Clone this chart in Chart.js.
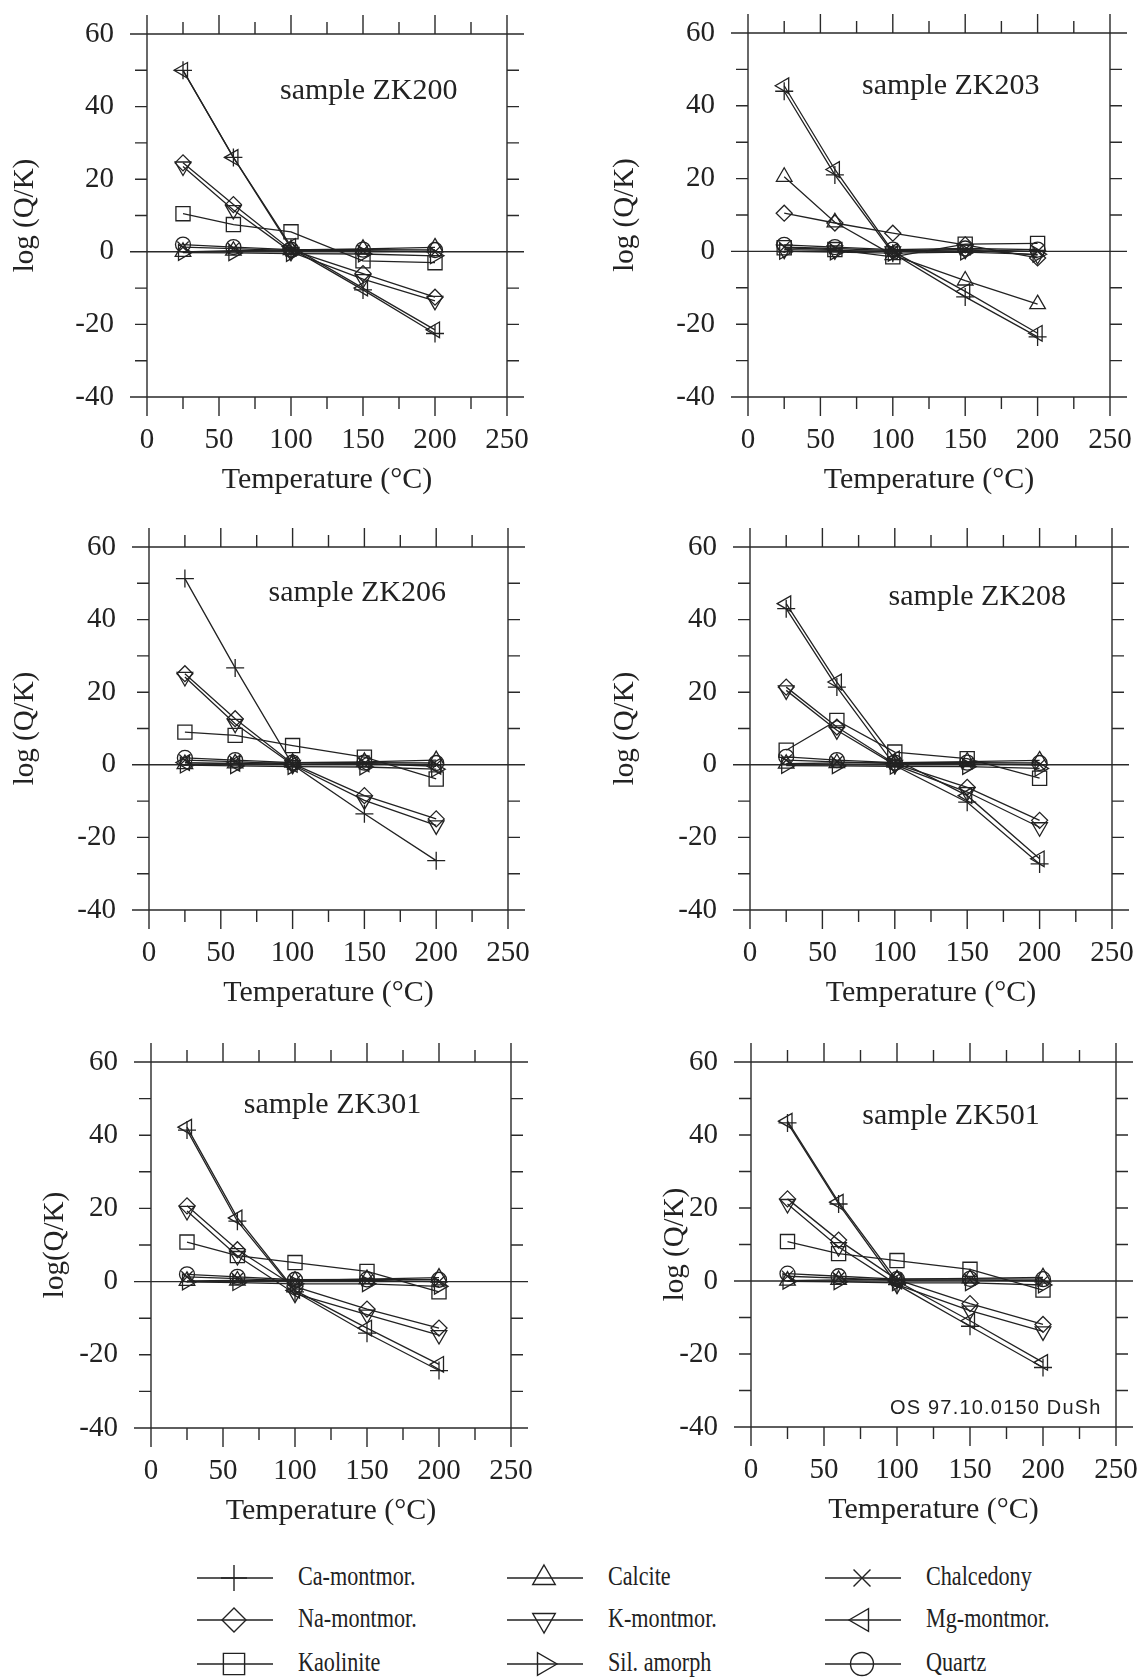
<!DOCTYPE html>
<html>
<head>
<meta charset="utf-8">
<script src="https://cdn.jsdelivr.net/npm/chart.js@4.4.1/dist/chart.umd.min.js"></script>
<style>
  body { margin: 0; background: #fff; width: 1141px; height: 1679px; position: relative; overflow: hidden; }
  canvas.panel { position: absolute; }
  .key { position: absolute; width: 260px; height: 40px; }
  .key canvas { position: absolute; left: 0; top: 0; }
  .key span {
    position: absolute; top: -2px; line-height: 40px; white-space: nowrap;
    font-family: 'Liberation Serif', 'Times New Roman', serif; font-size: 27px; color: #222;
    transform: scaleX(0.82); transform-origin: left center;
  }
</style>
</head>
<body>
<script>
// temperatures (°C) and samples
const temperatures = [25, 60, 100, 150, 200];
const samples = ['ZK200', 'ZK203', 'ZK206', 'ZK208', 'ZK301', 'ZK501'];
const mineralNames = ['Ca-montmor.', 'Na-montmor.', 'Kaolinite', 'Calcite', 'K-montmor.',
                      'Sil. amorph', 'Chalcedony', 'Mg-montmor.', 'Quartz'];

// log(Q/K), one row per sample (same order as samples)
const caMontmor = [
  [50, 26, 1, -10.5, -22.5],
  [44, 21, -0.5, -12.5, -23.5],
  [51.3, 26.7, 0, -13.5, -26.4],
  [43, 21.4, -0.2, -10.3, -27.3],
  [41.4, 16.5, -2.8, -14.1, -24.3],
  [43.3, 21.1, -1, -12.4, -23.7]
];
const naMontmor = [
  [24.5, 13, 0.5, -6, -12.5],
  [10.5, 7.8, 5, 1.8, -1.8],
  [25.1, 12.7, 0.3, -8.5, -14.9],
  [21.4, 10.4, 0.3, -6.2, -15.3],
  [20.7, 8.7, -1.4, -7.5, -12.7],
  [22.5, 11.2, 0.4, -6.2, -11.9]
];
const kaolinite = [
  [10.5, 7.5, 5.5, -2.5, -3],
  [1, 0.5, -1.5, 2, 2.2],
  [9, 8.1, 5.3, 2.1, -3.9],
  [4, 12.2, 3.5, 1.7, -3.7],
  [10.8, 7.1, 5.2, 2.8, -2.8],
  [10.8, 7.5, 5.6, 3.2, -2.5]
];
const calcite = [
  [0, 0.3, 0.5, 0.8, 1.2],
  [20.5, 8, -1, -8, -14.5],
  [0.2, 0.4, 0.6, 0.8, 1.3],
  [0.3, 0.5, 0.6, 0.9, 1.2],
  [0.2, 0.3, 0.3, 0.7, 1.1],
  [0.1, 0.3, 0.5, 0.7, 1]
];
const kMontmor = [
  [23.5, 11.5, 0, -7.5, -13.5],
  [0.5, 0.3, 0, 0.5, -1],
  [24.2, 11.3, 0, -9.8, -16.7],
  [20.5, 9.5, 0, -7.5, -17.2],
  [19.3, 7, -3.3, -9, -14.6],
  [21.1, 9.3, -1, -8.1, -13.8]
];
const silAmorph = [
  [-0.2, -0.3, -0.5, -0.6, -1.1],
  [0, -0.2, -0.5, -0.2, -0.8],
  [-0.1, -0.3, -0.5, -0.6, -1.2],
  [-0.2, -0.3, -0.4, -0.5, -1],
  [-0.1, -0.3, -0.6, -0.6, -1.3],
  [-0.1, -0.2, -0.5, -0.5, -1.1]
];
const chalcedony = [
  [1.3, 0.9, 0.3, 0.3, 0],
  [1.2, 0.8, 0.2, 0.5, 0],
  [1.3, 0.9, 0.2, 0.3, 0],
  [1.3, 0.8, 0.3, 0.3, 0],
  [1.3, 0.8, 0.2, 0.3, 0],
  [1.3, 0.8, 0.2, 0.3, 0]
];
const mgMontmor = [
  [50, 26, 1.5, -10, -21.5],
  [45.5, 22.5, 0, -11, -22.5],
  [0.6, 0.4, 0.1, 0.3, -0.4],
  [44.4, 22.8, 1.6, -8.5, -25.9],
  [42.2, 17.4, -2.4, -12.7, -22.6],
  [43.8, 21.6, 0, -10.9, -22.3]
];
const quartz = [
  [2, 1.3, 0.6, 0.6, 0.5],
  [1.8, 1.2, 0.5, 0.8, 0.5],
  [1.9, 1.3, 0.6, 0.6, 0.5],
  [2.2, 1.3, 0.6, 0.6, 0.5],
  [2, 1.3, 0.5, 0.6, 0.5],
  [2, 1.3, 0.5, 0.6, 0.5]
];
const seriesValues = [caMontmor, naMontmor, kaolinite, calcite, kMontmor,
                      silAmorph, chalcedony, mgMontmor, quartz];

const yTitles = ['log (Q/K)', 'log (Q/K)', 'log (Q/K)', 'log (Q/K)', 'log(Q/K)', 'log (Q/K)'];
const xTitle = 'Temperature (°C)';
const stamp = 'OS 97.10.0150 DuSh';

// ---- layout / style ----
// plot area of each panel in page pixels: left, right, top, bottom
const plotBoxes = [
  [147, 507, 34, 397],
  [748, 1110, 33, 397],
  [149, 508, 547, 910],
  [750, 1112, 547, 910],
  [151, 511, 1062, 1428],
  [751, 1116, 1062, 1427]
];
// distance from left axis to the centre of the rotated y title
const yTitleDist = [122, 123, 124, 125, 96, 76];
// where "sample ..." sits, in data units (centre x, baseline y)
const labelSpots = [[154, 42.2], [140, 43.3], [145, 45], [157, 43.9], [126, 46.2], [137, 43.1]];

const markers = [
  { pointStyle: 'cross', rotation: 0, radius: 9 },
  { pointStyle: 'rectRot', rotation: 0, radius: 8 },
  { pointStyle: 'rect', rotation: 0, radius: 10 },
  { pointStyle: 'triangle', rotation: 0, radius: 9 },
  { pointStyle: 'triangle', rotation: 180, radius: 9 },
  { pointStyle: 'triangle', rotation: 90, radius: 9 },
  { pointStyle: 'crossRot', rotation: 0, radius: 8 },
  { pointStyle: 'triangle', rotation: 270, radius: 9 },
  { pointStyle: 'circle', rotation: 0, radius: 7.5 }
];

const SERIF = "'Liberation Serif', 'Times New Roman', serif";
const INK = '#222';
const AXIS_W = 150, AXIS_H = 120, PAD_TOP = 25, PAD_RIGHT = 30;

// tick labels may hang over the edges, the layout padding already leaves room
function noOverhang(sc) {
  sc.paddingTop = 0; sc.paddingBottom = 0; sc.paddingLeft = 0; sc.paddingRight = 0;
}

// frame, zero line and the little ticks all round
const framePlugin = {
  id: 'frame',
  beforeDatasetsDraw(chart) {
    const { ctx, scales: { x, y } } = chart;
    const x0 = x.getPixelForValue(0), x1 = x.getPixelForValue(250);
    const yTop = y.getPixelForValue(60), yBot = y.getPixelForValue(-40);
    ctx.save();
    ctx.strokeStyle = '#2a2a2a';
    ctx.lineWidth = 1.4;
    ctx.beginPath();
    [60, 0, -40].forEach(v => {
      const py = y.getPixelForValue(v);
      ctx.moveTo(x0 - 17, py); ctx.lineTo(x1 + 17, py);
    });
    [x0, x1].forEach(px => { ctx.moveTo(px, yTop - 19); ctx.lineTo(px, yBot + 19); });
    for (let t = 25; t < 250; t += 25) {
      const px = x.getPixelForValue(t);
      const len = t % 50 === 0 ? 19 : 12;
      ctx.moveTo(px, yTop); ctx.lineTo(px, yTop - len);
      ctx.moveTo(px, yBot); ctx.lineTo(px, yBot + len);
    }
    for (let v = -30; v < 60; v += 10) {
      if (v === 0) continue;
      const py = y.getPixelForValue(v);
      ctx.moveTo(x0, py); ctx.lineTo(x0 - 12, py);
      ctx.moveTo(x1, py); ctx.lineTo(x1 + 12, py);
    }
    ctx.stroke();
    ctx.restore();
  },
  afterDatasetsDraw(chart, args, opts) {
    const { ctx, scales: { x, y } } = chart;
    ctx.save();
    ctx.fillStyle = INK;
    ctx.font = '30px ' + SERIF;
    ctx.textAlign = 'center';
    ctx.textBaseline = 'alphabetic';
    ctx.fillText(opts.text, x.getPixelForValue(opts.at[0]), y.getPixelForValue(opts.at[1]));
    if (opts.stamp) {
      ctx.font = "20px 'Liberation Sans', Arial, sans-serif";
      if ('letterSpacing' in ctx) ctx.letterSpacing = '1.2px';
      ctx.textAlign = 'right';
      ctx.fillText(opts.stamp, x.getPixelForValue(240.2), y.getPixelForValue(-36.5));
    }
    ctx.restore();
  }
};

samples.forEach((name, s) => {
  const [l, r, t, b] = plotBoxes[s];
  const canvas = document.createElement('canvas');
  canvas.className = 'panel';
  canvas.width = AXIS_W + (r - l) + PAD_RIGHT;
  canvas.height = PAD_TOP + (b - t) + AXIS_H;
  canvas.style.left = (l - AXIS_W) + 'px';
  canvas.style.top = (t - PAD_TOP) + 'px';
  document.body.appendChild(canvas);

  const datasets = mineralNames.map((m, i) => ({
    label: m,
    data: temperatures.map((T, j) => ({ x: T, y: seriesValues[i][s][j] })),
    borderColor: INK,
    borderWidth: 1.3,
    backgroundColor: 'rgba(0,0,0,0)',
    pointStyle: markers[i].pointStyle,
    pointRotation: markers[i].rotation,
    pointRadius: markers[i].radius,
    pointBorderWidth: 1.3,
    pointBorderColor: INK,
    pointBackgroundColor: 'rgba(0,0,0,0)',
    fill: false,
    tension: 0,
    clip: false
  }));

  new Chart(canvas.getContext('2d'), {
    type: 'line',
    data: { datasets },
    plugins: [framePlugin],
    options: {
      responsive: false,
      devicePixelRatio: 1,
      animation: false,
      events: [],
      layout: { padding: { top: PAD_TOP, right: PAD_RIGHT, left: 0, bottom: 0 } },
      plugins: {
        legend: { display: false },
        tooltip: { enabled: false },
        frame: { text: 'sample ' + name, at: labelSpots[s], stamp: s === 5 ? stamp : null }
      },
      scales: {
        x: {
          type: 'linear', position: 'bottom', min: 0, max: 250,
          afterFit: sc => { sc.height = AXIS_H; noOverhang(sc); },
          grid: { display: false, drawTicks: false, tickLength: 0 },
          border: { display: false },
          ticks: { stepSize: 50, autoSkip: false, maxRotation: 0, padding: 29, color: INK,
                   font: { family: SERIF, size: 29, lineHeight: 1 } },
          title: { display: true, text: xTitle, color: INK,
                   font: { family: SERIF, size: 30, lineHeight: 1 }, padding: { top: 0, bottom: 22 } }
        },
        y: {
          type: 'linear', position: 'left', min: -40, max: 60,
          afterFit: sc => { sc.width = AXIS_W; noOverhang(sc); },
          grid: { display: false, drawTicks: false, tickLength: 0 },
          border: { display: false },
          ticks: { stepSize: 20, padding: 33, color: INK,
                   font: { family: SERIF, size: 29, lineHeight: 1 } },
          title: { display: true, text: yTitles[s], color: INK,
                   font: { family: SERIF, size: 29, lineHeight: 1 },
                   padding: { top: AXIS_W - yTitleDist[s] - 14.5, bottom: 0 } }
        }
      }
    }
  });
});

// legend, three columns
const legendCols = [197, 507, 825];
const legendRows = [1578, 1620, 1664];
mineralNames.forEach((m, i) => {
  const key = document.createElement('div');
  key.className = 'key';
  key.style.left = legendCols[Math.floor(i / 3)] + 'px';
  key.style.top = (legendRows[i % 3] - 20) + 'px';
  const c = document.createElement('canvas');
  c.width = 80; c.height = 40;
  const ctx = c.getContext('2d');
  ctx.strokeStyle = INK;
  ctx.fillStyle = 'rgba(0,0,0,0)';
  ctx.lineWidth = 1.4;
  ctx.beginPath(); ctx.moveTo(0, 20); ctx.lineTo(76, 20); ctx.stroke();
  const big = { cross: 13, rectRot: 12, rect: 15, triangle: 13, crossRot: 12, circle: 11.5 };
  Chart.helpers.drawPoint(ctx, {
    pointStyle: markers[i].pointStyle, rotation: markers[i].rotation,
    radius: big[markers[i].pointStyle], borderWidth: 1.4
  }, 37, 20);
  key.appendChild(c);
  const span = document.createElement('span');
  span.style.left = '101px';
  span.textContent = m;
  key.appendChild(span);
  document.body.appendChild(key);
});
</script>
</body>
</html>
